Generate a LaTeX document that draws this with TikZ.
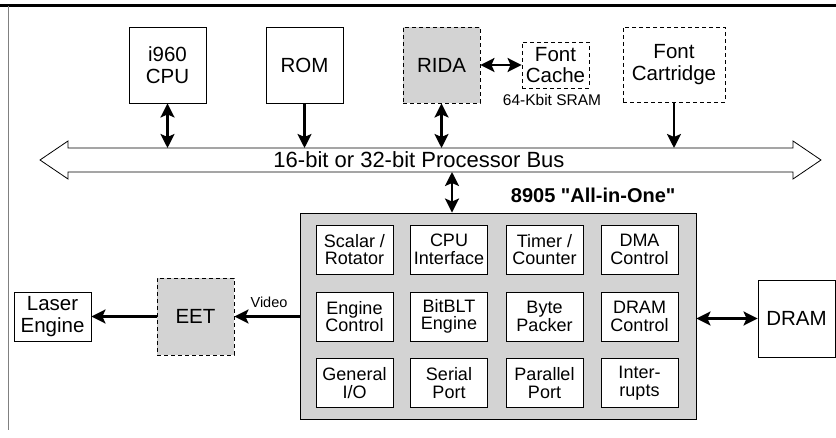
\documentclass[tikz,border=0pt]{standalone}
\usepackage{fontspec}
\setmainfont{Liberation Sans}
\newfontfamily\plainsans{Liberation Sans}
\usetikzlibrary{arrows.meta}
\definecolor{boxgray}{RGB}{211,211,211}
\begin{document}
\begin{tikzpicture}[x=1pt,y=-1pt,
  box/.style={draw, line width=0.9pt, align=center, inner sep=0pt, fill=white,
    font=\fontsize{20.5}{21.5}\selectfont},
  dashbox/.style={box, dash pattern=on 4pt off 3pt},
  graybox/.style={fill=boxgray},
  unit/.style={box, minimum width=77pt, minimum height=49pt,
    font=\fontsize{18}{17.5}\selectfont},
  arr/.style={line width=2.5pt, -{Stealth[length=14pt,width=14pt,inset=3pt]}},
  dbl/.style={line width=2.5pt, {Stealth[length=14pt,width=14pt,inset=3pt]}-{Stealth[length=14pt,width=14pt,inset=3pt]}}
]
\useasboundingbox (0,0) rectangle (836,438);
% frame
\draw[line width=3pt] (0,6) -- (836,6);
\draw[line width=0.8pt, gray] (8,6) -- (8,430);

% bus
\draw[line width=0.8pt, fill=white] (40,160) -- (68,141) -- (68,148) -- (793,148) -- (793,141)
  -- (821,160) -- (793,179) -- (793,172) -- (68,172) -- (68,179) -- cycle;
\node[font=\fontsize{22}{24}\selectfont, anchor=base] (buslabel) at (419,168) {16-bit or 32-bit Processor Bus};
\coordinate (bustop) at (0,148);
\coordinate (busjoin) at (452,172);

% top devices
\node[box, minimum width=77pt, minimum height=76pt] (cpu) at (167.5,65) {i960\\CPU};
\node[box, minimum width=77pt, minimum height=76pt] (rom) at (304.5,65) {ROM};
\node[dashbox, graybox, minimum width=77pt, minimum height=76pt] (rida) at (441.5,65) {RIDA};
\node[dashbox, minimum width=67pt, minimum height=46pt] (cache) at (555.5,65) {Font\\Cache};
\node[font=\fontsize{15.5}{17}\selectfont, anchor=base] (sram) at (552,106) {64-Kbit SRAM};
\node[dashbox, minimum width=102pt, minimum height=75pt] (cart) at (674,64.5) {Font\\Cartridge};

\draw[dbl] (cpu.south) -- (cpu.south |- bustop);
\draw[arr] (rom.south) -- (rom.south |- bustop);
\draw[dbl] (rida.south) -- (rida.south |- bustop);
\draw[dbl] (rida.east) -- (cache.west);
\draw[arr] (cart.south) -- (cart.south |- bustop);

% chip
\node[draw, line width=0.9pt, fill=boxgray, minimum width=396pt, minimum height=206pt, inner sep=0pt] (chip) at (498,316) {};
\node[font=\plainsans\bfseries\fontsize{20}{22}\selectfont, anchor=base east] (chiplabel) at (679,203) {8905 "All-in-One"};
\draw[dbl] (busjoin) -- (busjoin |- chip.north);

\node[unit] (u11) at (354.5,249.5) {Scalar /\\Rotator};
\node[unit] (u12) at (449,249.5) {CPU\\Interface};
\node[unit] (u13) at (544.5,249.5) {Timer /\\Counter};
\node[unit] (u14) at (639.5,249.5) {DMA\\Control};
\node[unit] (u21) at (354.5,316.5) {Engine\\Control};
\node[unit] (u22) at (449,316.5) {BitBLT\\Engine};
\node[unit] (u23) at (544.5,316.5) {Byte\\Packer};
\node[unit] (u24) at (639.5,316.5) {DRAM\\Control};
\node[unit] (u31) at (354.5,383) {General\\I/O};
\node[unit] (u32) at (449,383) {Serial\\Port};
\node[unit] (u33) at (544.5,383) {Parallel\\Port};
\node[unit] (u34) at (639.5,383) {Inter-\\rupts};

% right / left
\node[box, minimum width=77pt, minimum height=77pt] (dram) at (796.5,318.5) {DRAM};
\draw[dbl] (chip.east |- dram) -- (dram.west);

\node[dashbox, graybox, minimum width=77pt, minimum height=77pt] (eet) at (195.5,316.5) {EET};
\node[box, minimum width=77pt, minimum height=49pt] (laser) at (52.5,316.5) {Laser\\Engine};
\draw[arr] (chip.west |- eet) -- (eet.east);
\node[font=\fontsize{14.5}{16}\selectfont] (video) at (269,302) {Video};
\draw[arr] (eet.west) -- (laser.east);
\end{tikzpicture}
\end{document}
